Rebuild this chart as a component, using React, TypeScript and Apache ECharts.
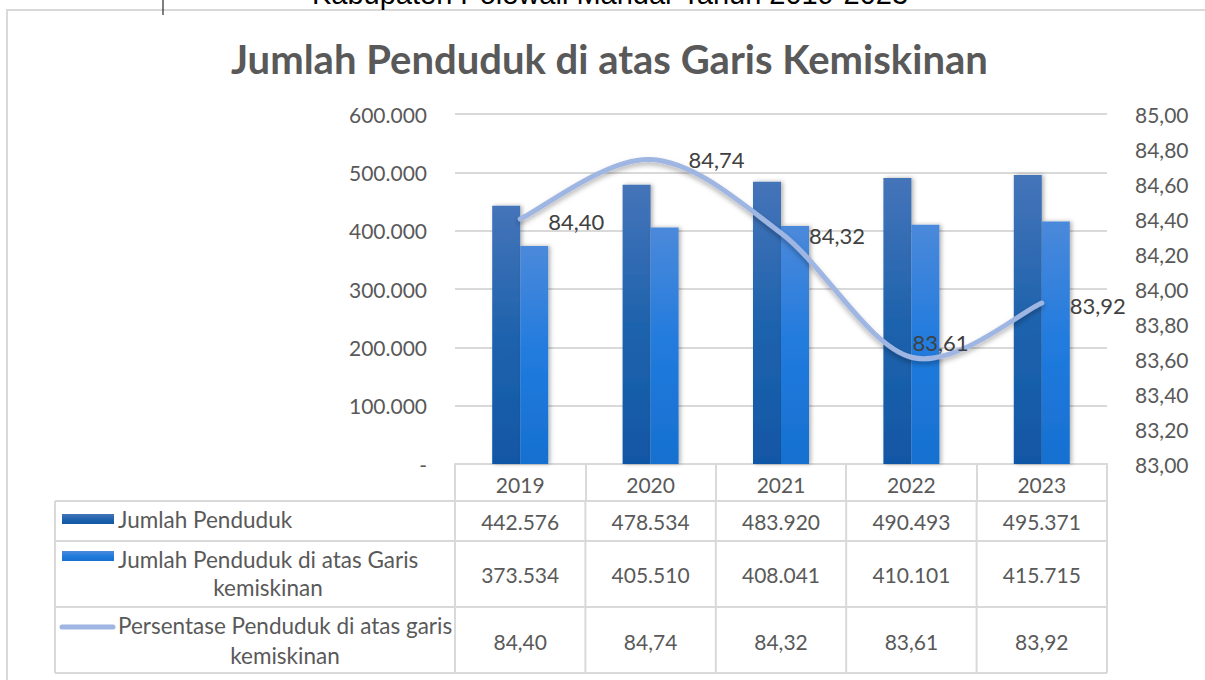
import React, { useEffect, useRef } from 'react';
import * as echarts from 'echarts';

const years = ['2019', '2020', '2021', '2022', '2023'];
const jumlahPenduduk = [442576, 478534, 483920, 490493, 495371];
const diAtasGaris = [373534, 405510, 408041, 410101, 415715];
const persentase = [84.4, 84.74, 84.32, 83.61, 83.92];

const seriesNames = [
  'Jumlah Penduduk',
  'Jumlah Penduduk di atas Garis\nkemiskinan',
  'Persentase Penduduk di atas garis\nkemiskinan',
];
const chartTitle = 'Jumlah Penduduk di atas Garis Kemiskinan';
const cutSubtitle = 'Kabupaten Polewali Mandar Tahun 2019-2023';

const FONT = 'Lato';
const TXT = '#595959';
const GRIDC = '#d9d9d9';
const LINEC = '#9fb6e2';
const TFS = 21; // table value font size
const RFS = 22.5; // row label font size
const AFS = 21; // axis font size

const fmtInt = (v: number) => (v === 0 ? '-' : String(Math.round(v)).replace(/\B(?=(\d{3})+(?!\d))/g, '.'));
const fmtPct = (v: number) => v.toFixed(2).replace('.', ',');

const GL = 455;
const GR = 1107;
const GT = 114;
const GB = 464;
const W = 1205;
const H = 680;

const darkGrad = () =>
  new echarts.graphic.LinearGradient(0, 0, 0, 1, [
    { offset: 0, color: '#4574b9' },
    { offset: 0.5, color: '#1f63ad' },
    { offset: 1, color: '#1157a5' },
  ]);
const lightGrad = () =>
  new echarts.graphic.LinearGradient(0, 0, 0, 1, [
    { offset: 0, color: '#4b89da' },
    { offset: 0.5, color: '#217bde' },
    { offset: 1, color: '#1670d0' },
  ]);

export default function App() {
  const ref = useRef<HTMLDivElement>(null);
  useEffect(() => {
    document.body.style.margin = '0';
    const chart = echarts.init(ref.current!, null, { renderer: 'svg' });
    const colW = (GR - GL) / years.length;
    const rowLines = [501, 541, 607, 673];
    const tableLeft = 55;
    const rowCenters = [521, 574, 641];
    const rowValues = [jumlahPenduduk.map(fmtInt), diAtasGaris.map(fmtInt), persentase.map(fmtPct)];
    const tf = `${TFS}px ${FONT}`;
    const rf = `${RFS}px ${FONT}`;

    const graphic: any[] = [];
    graphic.push({
      type: 'rect',
      shape: { x: 7, y: 10, width: W, height: H },
      style: { fill: 'none', stroke: GRIDC, lineWidth: 2 },
      silent: true,
    });
    graphic.push({
      type: 'text',
      x: 610,
      y: 8,
      style: {
        text: cutSubtitle,
        font: '29px "Liberation Sans", Arial, sans-serif',
        fill: '#000',
        textAlign: 'center',
        textVerticalAlign: 'bottom',
      },
    });
    graphic.push({ type: 'line', shape: { x1: 163, y1: 0, x2: 163, y2: 15 }, style: { stroke: '#000', lineWidth: 1 } });
    rowLines.forEach((y) => {
      graphic.push({ type: 'line', shape: { x1: tableLeft, y1: y, x2: GR, y2: y }, style: { stroke: GRIDC, lineWidth: 2 } });
    });
    [tableLeft, ...years.map((_, i) => GL + i * colW), GR].forEach((x) => {
      graphic.push({ type: 'line', shape: { x1: x, y1: rowLines[0], x2: x, y2: rowLines[3] }, style: { stroke: GRIDC, lineWidth: 2 } });
    });
    rowValues.forEach((vals, r) => {
      vals.forEach((t, i) => {
        graphic.push({
          type: 'text',
          x: GL + (i + 0.5) * colW,
          y: rowCenters[r],
          style: { text: t, font: tf, fill: TXT, textAlign: 'center', textVerticalAlign: 'middle' },
        });
      });
    });
    graphic.push({ type: 'rect', shape: { x: 62, y: 514, width: 52, height: 10 }, style: { fill: darkGrad() } });
    graphic.push({ type: 'rect', shape: { x: 62, y: 551, width: 52, height: 10 }, style: { fill: lightGrad() } });
    graphic.push({
      type: 'line',
      shape: { x1: 62, y1: 627, x2: 113, y2: 627 },
      style: { stroke: LINEC, lineWidth: 5, lineCap: 'round' },
    });
    graphic.push({
      type: 'text', x: 118, y: 519,
      style: { text: seriesNames[0], font: rf, fill: TXT, textAlign: 'left', textVerticalAlign: 'middle' },
    });
    const l2 = seriesNames[1].split('\n');
    graphic.push({
      type: 'text', x: 118, y: 559,
      style: { text: l2[0], font: rf, fill: TXT, textAlign: 'left', textVerticalAlign: 'middle' },
    });
    graphic.push({
      type: 'text', x: 268, y: 587,
      style: { text: l2[1], font: rf, fill: TXT, textAlign: 'center', textVerticalAlign: 'middle' },
    });
    const l3 = seriesNames[2].split('\n');
    graphic.push({
      type: 'text', x: 118, y: 625,
      style: { text: l3[0], font: rf, fill: TXT, textAlign: 'left', textVerticalAlign: 'middle' },
    });
    graphic.push({
      type: 'text', x: 285, y: 655,
      style: { text: l3[1], font: rf, fill: TXT, textAlign: 'center', textVerticalAlign: 'middle' },
    });

    const labelOffsets = [
      [0, 2],
      [10, 0],
      [0, 2],
      [-27, -15],
      [0, 2],
    ];

    // Catmull-Rom style curve through the series points (like Excel's smoothed line)
    const renderCurve = (params: any, api: any) => {
      if (params.dataIndex !== 0) return null;
      const pts = persentase.map((v, i) => api.coord([i, v]));
      const t = 1 / 6;
      let d = `M${pts[0][0]},${pts[0][1]}`;
      for (let i = 0; i < pts.length - 1; i++) {
        const p0 = pts[Math.max(0, i - 1)];
        const p1 = pts[i];
        const p2 = pts[i + 1];
        const p3 = pts[Math.min(pts.length - 1, i + 2)];
        const c1x = p1[0] + (p2[0] - p0[0]) * t;
        const c1y = p1[1] + (p2[1] - p0[1]) * t;
        const c2x = p2[0] - (p3[0] - p1[0]) * t;
        const c2y = p2[1] - (p3[1] - p1[1]) * t;
        d += ` C${c1x},${c1y} ${c2x},${c2y} ${p2[0]},${p2[1]}`;
      }
      return {
        type: 'path',
        shape: { pathData: d },
        style: {
          fill: 'none',
          stroke: LINEC,
          lineWidth: 5,
          lineCap: 'round',
          shadowColor: 'rgba(0,0,0,0.3)',
          shadowBlur: 5,
          shadowOffsetY: 3,
        },
        silent: true,
      };
    };

    chart.setOption({
      animation: false,
      title: {
        text: chartTitle,
        left: 226,
        top: 34,
        textStyle: { fontFamily: FONT, fontWeight: 'bold', fontSize: 40, color: TXT },
      },
      grid: { left: GL, right: W - GR, top: GT, bottom: H - GB, containLabel: false },
      xAxis: {
        type: 'category',
        data: years,
        axisLine: { lineStyle: { color: GRIDC, width: 2 } },
        axisTick: { show: true, length: 37, lineStyle: { color: GRIDC, width: 2 } },
        axisLabel: { color: TXT, fontFamily: FONT, fontSize: AFS, margin: 10 },
      },
      yAxis: [
        {
          type: 'value',
          min: 0,
          max: 600000,
          interval: 100000,
          axisLine: { show: false },
          axisTick: { show: false },
          splitLine: { lineStyle: { color: GRIDC, width: 2 } },
          axisLabel: { color: TXT, fontFamily: FONT, fontSize: AFS, margin: 28, formatter: fmtInt },
        },
        {
          type: 'value',
          min: 83,
          max: 85,
          interval: 0.2,
          axisLine: { show: false },
          axisTick: { show: false },
          splitLine: { show: false },
          axisLabel: { color: TXT, fontFamily: FONT, fontSize: AFS, margin: 28, formatter: fmtPct },
        },
      ],
      graphic,
      series: [
        {
          name: 'Jumlah Penduduk',
          type: 'bar',
          data: jumlahPenduduk,
          barWidth: 28,
          barGap: '0%',
          itemStyle: { color: darkGrad(), shadowColor: 'rgba(0,0,0,0.3)', shadowBlur: 4, shadowOffsetX: 2 },
        },
        {
          name: 'Jumlah Penduduk di atas Garis kemiskinan',
          type: 'bar',
          data: diAtasGaris,
          barWidth: 28,
          barGap: '0%',
          itemStyle: { color: lightGrad(), shadowColor: 'rgba(0,0,0,0.3)', shadowBlur: 4, shadowOffsetX: 2 },
        },
        {
          name: 'Persentase Penduduk di atas garis kemiskinan',
          type: 'custom',
          yAxisIndex: 1,
          renderItem: renderCurve,
          data: persentase.map((v, i) => [i, v]),
          encode: { x: 0, y: 1 },
          z: 4,
        },
        {
          name: 'Persentase labels',
          type: 'line',
          yAxisIndex: 1,
          symbol: 'circle',
          symbolSize: 4,
          showSymbol: true,
          itemStyle: { color: LINEC },
          lineStyle: { opacity: 0 },
          data: persentase.map((v, i) => ({
            value: v,
            label: { offset: labelOffsets[i] },
          })),
          label: {
            show: true,
            position: 'right',
            distance: 26,
            color: '#404040',
            fontFamily: FONT,
            fontSize: 22,
            formatter: (p: any) => fmtPct(p.value),
          },
          z: 5,
        },
      ],
    });
    return () => chart.dispose();
  }, []);
  return <div ref={ref} style={{ width: W, height: H }} />;
}
